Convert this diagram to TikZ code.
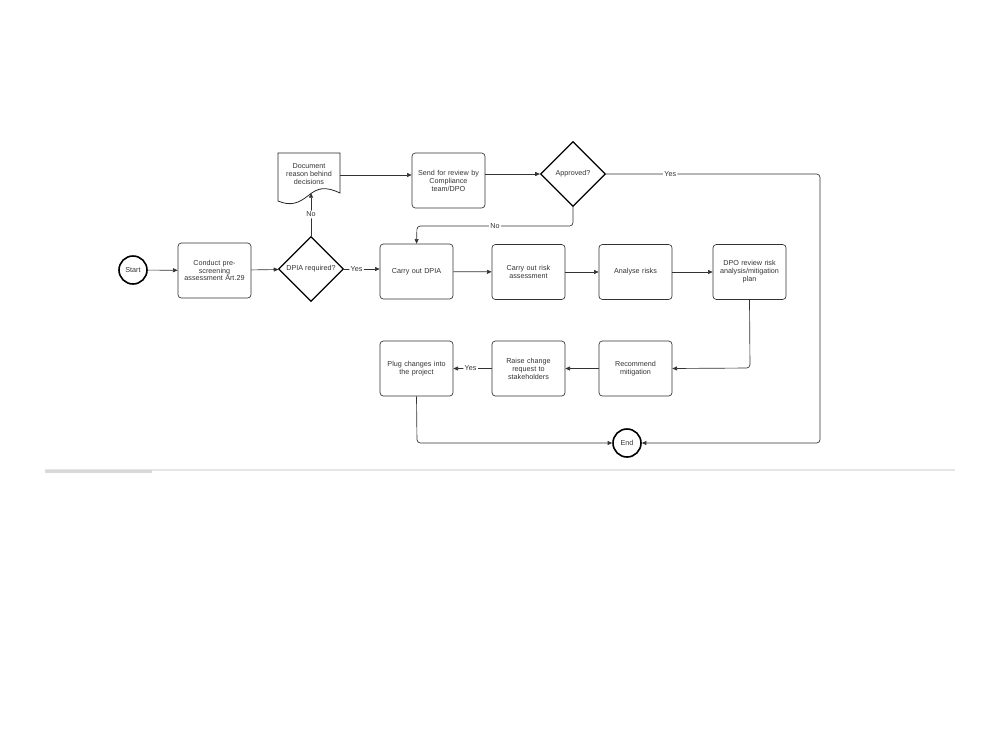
\documentclass[tikz,border=0pt]{standalone}
\usepackage{fontspec}
\setmainfont{Liberation Sans}
\usetikzlibrary{shapes.geometric,arrows.meta}
\begin{document}
\begin{tikzpicture}[x=0.75pt,y=-0.75pt,
  font=\fontsize{5.4}{6.0}\selectfont,
  every node/.style={text=black!80},
  box/.style={draw=black!80,line width=0.5pt,rounded corners=2.5pt,minimum width=73*0.75pt,minimum height=55*0.75pt,text width=52pt,align=center,inner sep=1pt},
  dia/.style={draw=black,line width=0.9pt,shape=diamond,aspect=1,inner sep=0pt,minimum width=65*0.75pt,minimum height=65*0.75pt},
  term/.style={draw=black,line width=1.2pt,circle,minimum size=28*0.75pt,inner sep=0pt},
  conn/.style={draw=black!80,line width=0.5pt,rounded corners=2.5pt,-{Triangle[length=3.5pt,width=3pt]}},
  lbl/.style={fill=white,inner sep=1pt,text=black!80}]
\useasboundingbox (0,0) rectangle (1000,750);

% nodes
\node[term] (start) at (133,270) {Start};
\node[box] (conduct) at (214.5,270.5) {Conduct pre-\\screening\\[-1.2pt]assessment Art.29};
\node[dia] (dpia) at (311,269) {};
\node at (dpia) {DPIA required?};

% document shape
\draw[draw=black!85,line width=0.6pt] (278,153) -- (340,153) -- (340,193)
  .. controls (325,186) and (318,188) .. (309,195)
  .. controls (298,204) and (290,206) .. (278,201) -- cycle;
\coordinate (docb) at (311,193);
\coordinate (docr) at (340,175);
\node[align=center] (doc) at (309,174) {Document\\reason behind\\decisions};

\node[box] (send) at (448.5,180.5) {Send for review by\\Compliance\\team/DPO};
\node[dia] (appr) at (573,174) {};
\node at (appr) {Approved?};

\node[box] (carry) at (416.5,271.5) {Carry out DPIA};
\node[box] (risk) at (528.5,272) {Carry out risk\\assessment};
\node[box] (analyse) at (635.5,272) {Analyse risks};
\node[box] (dpo) at (749.5,272) {DPO review risk\\analysis/mitigation\\plan};

\node[box] (recommend) at (635.5,368.5) {Recommend\\mitigation};
\node[box] (raise) at (528.5,368.5) {Raise change\\request to\\stakeholders};
\node[box] (plug) at (416.5,368.5) {Plug changes into\\the project\\[5pt]};

\node[term] (end) at (627,443) {End};

% helper coordinates
\coordinate (ny) at (573,226);
\coordinate (nx) at (417,226);
\coordinate (ya) at (820,174);
\coordinate (yb) at (820,443);
\coordinate (dd) at (750,368);
\coordinate (pe) at (417,443);

% connectors
\draw[conn] (start) -- (conduct);
\draw[conn] (conduct) -- (dpia);
\draw[conn] (dpia.north) -- node[lbl]{No} (docb);
\draw[conn] (docr) -- (send.west |- docr);
\draw[conn] (send.east |- appr) -- (appr.west);
\draw[conn] (appr.east) -- node[lbl,pos=0.3]{Yes} (ya) -- (yb) -- (end.east);
\draw[conn] (appr.south) -- (ny) -- node[lbl]{No} (nx) -- (carry.north);
\draw[conn] (dpia.east) -- node[lbl,pos=0.35]{Yes} (carry.west |- dpia.east);
\draw[conn] (carry) -- (risk);
\draw[conn] (risk) -- (analyse);
\draw[conn] (analyse) -- (dpo);
\draw[conn] (dpo.south) -- (dd) -- (recommend.east);
\draw[conn] (recommend) -- (raise);
\draw[conn] (raise) -- node[lbl,pos=0.55]{Yes} (plug);
\draw[conn] (plug.south) -- (pe) -- (end.west);

% bottom rule
\draw[gray!20,line width=0.8pt] (45,470) -- (955,470);
\fill[gray!30] (45,470) rectangle (152,473);
\end{tikzpicture}
\end{document}
